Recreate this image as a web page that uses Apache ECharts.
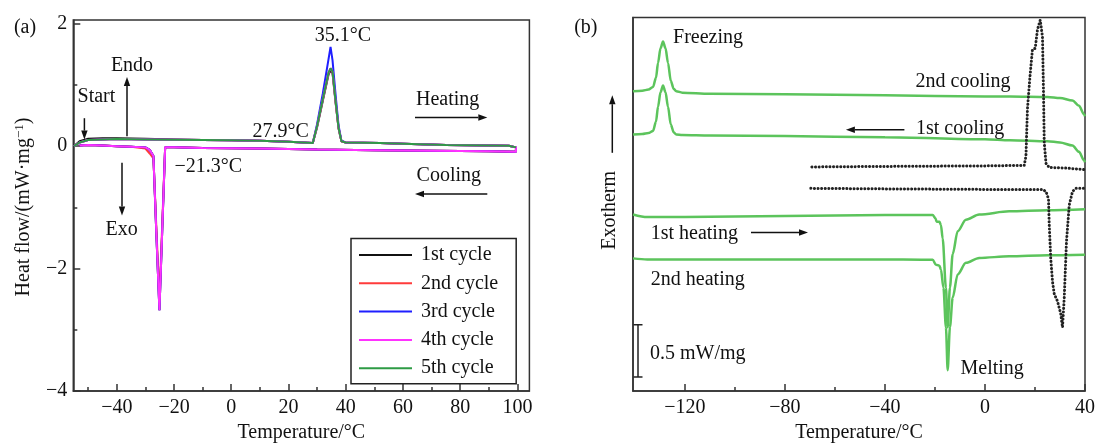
<!DOCTYPE html>
<html>
<head>
<meta charset="utf-8">
<script src="https://cdn.jsdelivr.net/npm/echarts@6/dist/echarts.min.js"></script>
<style>
  html, body { margin: 0; padding: 0; background: #fff; }
  #main { width: 1098px; height: 448px; }
</style>
</head>
<body>
<div id="main"></div>
<script>
// ---- (a) DSC cycles ----
const heatTemp = [-55, -53, -50, -45, -40, -30, -20, -10, 0, 10, 20, 28.5, 30, 32, 34, 34.7, 35.4, 36.5, 37.5, 38.5, 40, 52, 60, 75, 90, 97, 99.5];
const heat1st  = [0, 0.08, 0.12, 0.13, 0.13, 0.12, 0.11, 0.1, 0.095, 0.09, 0.07, 0.05, 0.31, 0.74, 1.17, 1.24, 1.19, 0.7, 0.29, 0.08, 0.06, 0.05, 0.04, 0.02, 0.01, 0.005, -0.02];
const heat3rd  = [0, 0.06, 0.1, 0.11, 0.115, 0.11, 0.105, 0.1, 0.095, 0.09, 0.07, 0.05, 0.36, 0.86, 1.42, 1.62, 1.4, 0.82, 0.34, 0.09, 0.06, 0.05, 0.04, 0.02, 0.01, 0.005, -0.02];
const heatOther = [0, 0.06, 0.1, 0.11, 0.115, 0.11, 0.105, 0.1, 0.095, 0.09, 0.07, 0.05, 0.33, 0.77, 1.2, 1.27, 1.22, 0.72, 0.3, 0.08, 0.06, 0.05, 0.04, 0.02, 0.01, 0.005, -0.02];

const coolTemp = [100, 99.5, 90, 70, 50, 30, 10, -10, -20, -23.1, -24.1, -25.1, -26.2, -27.2, -28.5, -30, -35, -40, -45, -50, -53];
const coolMain = [-0.05, -0.09, -0.085, -0.075, -0.065, -0.055, -0.04, -0.03, -0.02, -0.02, -1.35, -2.68, -1.4, -0.16, -0.06, -0.02, -0.01, 0, 0.01, 0.02, 0.01];
const coolRed  = [-0.05, -0.09, -0.085, -0.075, -0.065, -0.055, -0.04, -0.03, -0.02, -0.02, -1.25, -2.5, -1.3, -0.2, -0.12, -0.04, -0.01, 0, 0.01, 0.02, 0.01];

const cycleNames = ['1st cycle', '2nd cycle', '3rd cycle', '4th cycle', '5th cycle'];
const cycleColors = ['#111111', '#ff3b3b', '#1f1fff', '#ff33ff', '#2e9b45'];

const aMajorX = [-40, -20, 0, 20, 40, 60, 80, 100];
const aMinorX = [-50, -30, -10, 10, 30, 50, 70, 90];
const aMajorY = [-4, -2, 0, 2];
const aMinorY = [-3, -1, 1];

// ---- (b) cooling / heating runs ----
const bTempCool = [-140.7, -137, -134.5, -132.7, -131.5, -130.7, -129.7, -128.7, -127.7, -126.7, -125.6, -124.4, -123.4, -121, -110, -80, -40, 0, 10, 25, 30, 35, 37.6, 39.6, 40];
const cooling2nd = [2.87, 2.875, 2.885, 2.91, 3.0, 3.14, 3.28, 3.345, 3.28, 3.14, 2.97, 2.89, 2.87, 2.856, 2.845, 2.84, 2.83, 2.82, 2.82, 2.815, 2.805, 2.78, 2.73, 2.65, 2.63];
const cooling1st = [2.455, 2.46, 2.47, 2.49, 2.58, 2.72, 2.86, 2.925, 2.86, 2.72, 2.55, 2.475, 2.455, 2.45, 2.445, 2.44, 2.43, 2.41, 2.40, 2.39, 2.38, 2.35, 2.29, 2.21, 2.19];

const bTempHeat1 = [-140.7, -135, -120, -80, -40, -25.5, -20.9, -19.8, -19.3, -18.2, -17.6, -16.9, -15.6, -14.9, -14.0, -12.9, -10.9, -7.6, -2.3, 9.7, 25, 40];
const heating1st = [1.69, 1.665, 1.665, 1.675, 1.685, 1.685, 1.685, 1.654, 1.62, 1.62, 1.59, 1.46, 0.99, 0.61, 0.99, 1.31, 1.53, 1.64, 1.69, 1.72, 1.73, 1.74];
const bTempHeat2 = [-140.7, -135, -120, -80, -40, -25.5, -20.9, -19.6, -18.2, -17.6, -16.6, -15.6, -14.9, -14.0, -12.9, -10.9, -7.6, -2.3, 9.7, 25, 40];
const heating2nd = [1.27, 1.26, 1.26, 1.26, 1.26, 1.258, 1.258, 1.21, 1.20, 1.163, 0.99, 0.61, 0.20, 0.61, 0.895, 1.116, 1.227, 1.274, 1.29, 1.30, 1.305];

const dotCoolTemp = [-69.2, -40, 0, 15.7, 16.4, 17.0, 18.0, 19.0, 20.1, 21.0, 22.1, 23.0, 23.4, 23.7, 24.4, 25.7, 32, 39.5];
const dotCool = [2.145, 2.15, 2.155, 2.16, 2.25, 2.70, 3.01, 3.27, 3.28, 3.46, 3.55, 3.39, 2.86, 2.38, 2.18, 2.14, 2.135, 2.12];
const dotHeatTemp = [-69.6, -40, 0, 23.0, 24.4, 25.4, 25.7, 26.3, 27.0, 27.7, 29.0, 30.3, 31.0, 31.7, 32.6, 33.7, 35.0, 36.3, 39.5];
const dotHeat = [1.94, 1.935, 1.93, 1.93, 1.91, 1.84, 1.59, 1.27, 1.05, 0.93, 0.86, 0.74, 0.61, 0.89, 1.43, 1.78, 1.91, 1.94, 1.94];

const scaleBarTemp = [-138.7, -138.7];
const scaleBarValue = [0.135, 0.635];

const bMajorX = [-120, -80, -40, 0, 40];
const bMinorX = [-100, -60, -20, 20];

const FONT = '"Liberation Serif", "Times New Roman", serif';
const INK = '#111';
const AXIS = '#333';
const GREEN_B = '#5cc45c';

function pairs(xs, ys) { return xs.map((x, i) => [x, ys[i]]); }
function minus(v) { return String(v).replace('-', '\u2212'); }

// text + arrows are annotation only, in pixels
function label(text, x, y, rot) {
  return { type: 'text', x: x, y: y, rotation: rot || 0, z: 100,
    style: { text: text, fontFamily: FONT, fontSize: 20, fill: INK, align: 'center', verticalAlign: 'middle' } };
}
function arrow(x1, y1, x2, y2) {
  const a = Math.atan2(y2 - y1, x2 - x1), L = 9, W = 3.2;
  const bx = x2 - L * Math.cos(a), by = y2 - L * Math.sin(a);
  return [
    { type: 'line', z: 100, shape: { x1: x1, y1: y1, x2: bx, y2: by }, style: { stroke: INK, lineWidth: 1.5 } },
    { type: 'polygon', z: 100, shape: { points: [[x2, y2], [bx - W * Math.sin(a), by + W * Math.cos(a)], [bx + W * Math.sin(a), by - W * Math.cos(a)]] },
      style: { fill: INK } }
  ];
}

function mainX(grid, min, max, major) {
  return {
    gridIndex: grid, type: 'value', min: min, max: max, position: 'bottom',
    axisLine: { show: true, onZero: false, lineStyle: { color: AXIS, width: 1.5 } },
    axisTick: { show: true, inside: true, length: 7, customValues: major, lineStyle: { color: AXIS, width: 1.5 } },
    axisLabel: { customValues: major, formatter: minus, margin: 7, fontFamily: FONT, fontSize: 20, color: INK },
    splitLine: { show: false },
    name: 'Temperature/°C', nameLocation: 'middle', nameGap: 28,
    nameTextStyle: { fontFamily: FONT, fontSize: 20, color: INK }
  };
}
function minorX(grid, min, max, minor) {
  return {
    gridIndex: grid, type: 'value', min: min, max: max, position: 'bottom',
    axisLine: { show: false, onZero: false },
    axisTick: { show: true, inside: true, length: 4, customValues: minor, lineStyle: { color: AXIS, width: 1.5 } },
    axisLabel: { show: false }, splitLine: { show: false }
  };
}

const aSeries = [
  [heat1st, coolMain], [heatOther, coolRed], [heat3rd, coolMain], [heatOther, coolMain], [heatOther, null]
].map((c, i) => ({
  name: cycleNames[i], type: 'line', xAxisIndex: 0, yAxisIndex: 0,
  symbol: 'none', z: 2 + i,
  lineStyle: { color: cycleColors[i], width: 2 },
  itemStyle: { color: cycleColors[i] },
  data: pairs(heatTemp, c[0]).concat(c[1] ? pairs(coolTemp, c[1]) : [])
}));

function greenB(name, xs, ys) {
  return { name: name, type: 'line', xAxisIndex: 2, yAxisIndex: 2, symbol: 'none',
    smooth: 0.3, smoothMonotone: 'x',
    lineStyle: { color: GREEN_B, width: 2.5 }, data: pairs(xs, ys) };
}
function dotB(name, xs, ys) {
  return { name: name, type: 'line', xAxisIndex: 2, yAxisIndex: 2, symbol: 'none',
    lineStyle: { color: '#222', width: 3, type: [0.1, 3.5], cap: 'round' }, data: pairs(xs, ys) };
}

const bSeries = [
  greenB('2nd cooling', bTempCool, cooling2nd),
  greenB('1st cooling', bTempCool, cooling1st),
  greenB('1st heating', bTempHeat1, heating1st),
  greenB('2nd heating', bTempHeat2, heating2nd),
  dotB('dotted cooling', dotCoolTemp, dotCool),
  dotB('dotted heating', dotHeatTemp, dotHeat),
  { name: 'scale', type: 'line', xAxisIndex: 2, yAxisIndex: 2, symbol: 'rect', symbolSize: [9, 1.5],
    showSymbol: true, lineStyle: { color: '#222', width: 1.5 }, itemStyle: { color: '#222' },
    data: pairs(scaleBarTemp, scaleBarValue) }
];

const graphics = [
  label('(a)', 25, 27.6),
  label('35.1°C', 343, 35.5),
  label('Endo', 132, 65.5),
  label('Start', 96.4, 96.8),
  label('27.9°C', 280.7, 132),
  label('\u221221.3°C', 208.4, 167),
  label('Exo', 121.6, 229.5),
  label('Heating', 447.7, 100),
  label('Cooling', 448.8, 176),
  { type: 'text', x: 24, y: 207, rotation: Math.PI / 2, z: 100,
    style: { text: '{a|Heat flow/(mW·mg}{s|\u22121}{a|)}', align: 'center', verticalAlign: 'middle',
      rich: { a: { fontFamily: FONT, fontSize: 20, lineHeight: 22, fill: INK },
              s: { fontFamily: FONT, fontSize: 13, lineHeight: 12, verticalAlign: 'top', fill: INK } } } },
  label('(b)', 585.8, 27.6),
  label('Freezing', 708, 37.5),
  label('2nd cooling', 963, 82),
  label('1st cooling', 960.2, 128.7),
  label('1st heating', 694.3, 233.5),
  label('2nd heating', 697.8, 279.6),
  label('0.5 mW/mg', 697.8, 353.7),
  label('Melting', 992.2, 368.5),
  label('Exotherm', 610, 210.4, Math.PI / 2)
].concat(
  arrow(127, 136.3, 127, 77),
  arrow(84.4, 118.2, 84.4, 139.6),
  arrow(122, 162.7, 122, 215.4),
  arrow(415, 117.5, 487.3, 117.5),
  arrow(487.3, 194, 415, 194),
  arrow(904.4, 129.7, 845.9, 129.7),
  arrow(751, 232.5, 808, 232.5),
  arrow(612.3, 152.8, 612.3, 95.2)
);

const chart = echarts.init(document.getElementById('main'), null, { renderer: 'canvas' });
chart.setOption({
  animation: false,
  backgroundColor: '#fff',
  grid: [
    { left: 73.3, top: 20, width: 456.1, height: 374.3, show: true, borderColor: AXIS, borderWidth: 1.5 },
    { left: 633, top: 17.5, width: 452, height: 376.8, show: true, borderColor: AXIS, borderWidth: 1.5 }
  ],
  xAxis: [
    mainX(0, -55.2, 104.2, aMajorX),
    minorX(0, -55.2, 104.2, aMinorX),
    mainX(1, -140.7, 40, bMajorX),
    minorX(1, -140.7, 40, bMinorX)
  ],
  yAxis: [
    { gridIndex: 0, type: 'value', min: -4, max: 2.06, position: 'left',
      axisLine: { show: true, onZero: false, lineStyle: { color: AXIS, width: 1.5 } },
      axisTick: { show: true, inside: true, length: 7, customValues: aMajorY, lineStyle: { color: AXIS, width: 1.5 } },
      axisLabel: { customValues: aMajorY, formatter: minus, margin: 6, fontFamily: FONT, fontSize: 20, color: INK },
      splitLine: { show: false } },
    { gridIndex: 0, type: 'value', min: -4, max: 2.06, position: 'left',
      axisLine: { show: false, onZero: false },
      axisTick: { show: true, inside: true, length: 4, customValues: aMinorY, lineStyle: { color: AXIS, width: 1.5 } },
      axisLabel: { show: false }, splitLine: { show: false } },
    { gridIndex: 1, type: 'value', min: 0, max: 3.575, position: 'left',
      axisLine: { show: true, onZero: false, lineStyle: { color: AXIS, width: 1.5 } },
      axisTick: { show: false }, axisLabel: { show: false }, splitLine: { show: false } }
  ],
  legend: {
    data: cycleNames, orient: 'vertical', left: 351, top: 238.5,
    itemWidth: 53, itemHeight: 14, itemGap: 8.3,
    padding: [6.5, 18, 5.5, 7],
    borderColor: '#222', borderWidth: 1.5,
    itemStyle: { opacity: 0 },
    textStyle: { fontFamily: FONT, fontSize: 20, color: INK, lineHeight: 20, padding: [0, 0, 0, 4] }
  },
  series: aSeries.concat(bSeries),
  graphic: graphics
});
</script>
</body>
</html>
